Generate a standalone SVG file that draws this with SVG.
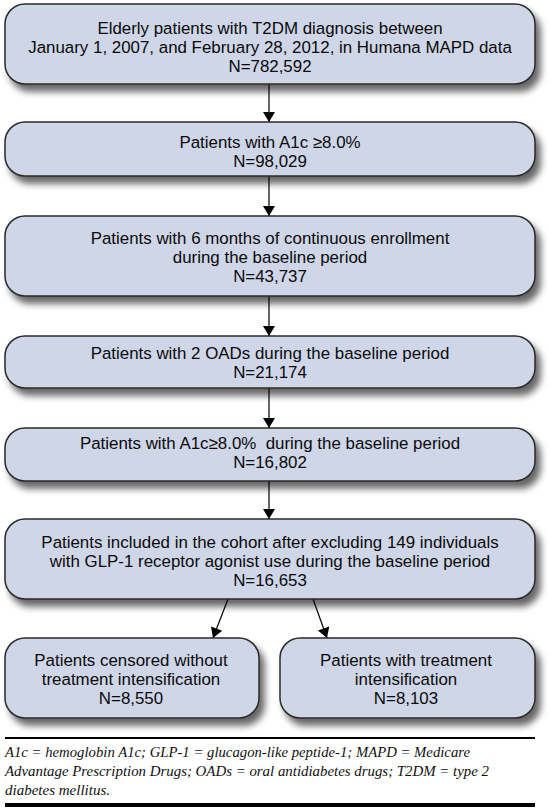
<svg xmlns="http://www.w3.org/2000/svg" width="548" height="808" viewBox="0 0 548 808">
<defs>
<filter id="sh" x="-10%" y="-20%" width="125%" height="160%">
<feGaussianBlur in="SourceAlpha" stdDeviation="3.5"/>
<feOffset dx="5" dy="7" result="b"/>
<feComponentTransfer><feFuncA type="linear" slope="0.6"/></feComponentTransfer>
<feMerge><feMergeNode/><feMergeNode in="SourceGraphic"/></feMerge>
</filter>
<marker id="ah" viewBox="0 0 10 14" refX="10" refY="7" markerWidth="11" markerHeight="14" markerUnits="userSpaceOnUse" orient="auto">
<path d="M0,1 L10,7 L0,13 Z" fill="#000"/>
</marker>
</defs>
<style>
.box{fill:#cfd6e8;stroke:#2a2a2a;stroke-width:1.5;filter:url(#sh)}
.t{font-family:"Liberation Sans",Arial,sans-serif;font-size:16.9px;fill:#0a0a0a;text-anchor:middle;white-space:pre}
.c{stroke:#000;stroke-width:1.2;fill:none;marker-end:url(#ah)}
.f{font-family:"Liberation Serif","Times New Roman",serif;font-style:italic;font-size:15px;fill:#111}
</style>
<g id="connectors">
<line class="c" x1="269" y1="84" x2="269" y2="122"/>
<line class="c" x1="269" y1="176" x2="269" y2="216"/>
<line class="c" x1="269" y1="296" x2="269" y2="336"/>
<line class="c" x1="269" y1="388" x2="269" y2="428"/>
<line class="c" x1="269" y1="481" x2="269" y2="519"/>
<line class="c" x1="228" y1="599" x2="213" y2="638"/>
<line class="c" x1="313" y1="599" x2="327" y2="638"/>
</g>
<g id="n1">
<rect class="box" x="5" y="4" width="530" height="80" rx="20"/>
<text class="t" x="270" y="34">Elderly patients with T2DM diagnosis between</text>
<text class="t" x="270" y="53">January 1, 2007, and February 28, 2012, in Humana MAPD data</text>
<text class="t" x="270" y="72">N=782,592</text>
</g>
<g id="n2">
<rect class="box" x="5" y="122" width="530" height="54" rx="20"/>
<text class="t" x="270" y="148">Patients with A1c ≥8.0%</text>
<text class="t" x="270" y="167">N=98,029</text>
</g>
<g id="n3">
<rect class="box" x="5" y="216" width="530" height="80" rx="20"/>
<text class="t" x="270" y="244">Patients with 6 months of continuous enrollment</text>
<text class="t" x="270" y="263">during the baseline period</text>
<text class="t" x="270" y="282">N=43,737</text>
</g>
<g id="n4">
<rect class="box" x="5" y="336" width="530" height="52" rx="20"/>
<text class="t" x="270" y="359">Patients with 2 OADs during the baseline period</text>
<text class="t" x="270" y="378">N=21,174</text>
</g>
<g id="n5">
<rect class="box" x="5" y="428" width="530" height="53" rx="20"/>
<text class="t" x="270" y="449" xml:space="preserve">Patients with A1c≥8.0%  during the baseline period</text>
<text class="t" x="270" y="468">N=16,802</text>
</g>
<g id="n6">
<rect class="box" x="5" y="519" width="530" height="80" rx="20"/>
<text class="t" x="270" y="548">Patients included in the cohort after excluding 149 individuals</text>
<text class="t" x="270" y="567">with GLP-1 receptor agonist use during the baseline period</text>
<text class="t" x="270" y="586">N=16,653</text>
</g>
<g id="n7">
<rect class="box" x="5" y="638" width="254" height="80" rx="20"/>
<text class="t" x="131" y="666">Patients censored without</text>
<text class="t" x="131" y="685">treatment intensification</text>
<text class="t" x="131" y="704">N=8,550</text>
</g>
<g id="n8">
<rect class="box" x="280" y="638" width="255" height="80" rx="20"/>
<text class="t" x="406" y="666">Patients with treatment</text>
<text class="t" x="406" y="685">intensification</text>
<text class="t" x="406" y="704">N=8,103</text>
</g>
<g id="footer">
<line x1="5" y1="738" x2="535" y2="738" stroke="#000" stroke-width="2"/>
<text class="f" x="5" y="757" textLength="465" lengthAdjust="spacingAndGlyphs">A1c = hemoglobin A1c; GLP-1 = glucagon-like peptide-1; MAPD = Medicare</text>
<text class="f" x="5" y="776" textLength="484" lengthAdjust="spacingAndGlyphs">Advantage Prescription Drugs; OADs = oral antidiabetes drugs; T2DM = type 2</text>
<text class="f" x="5" y="795">diabetes mellitus.</text>
<line x1="5" y1="805" x2="535" y2="805" stroke="#000" stroke-width="4"/>
</g>
</svg>
